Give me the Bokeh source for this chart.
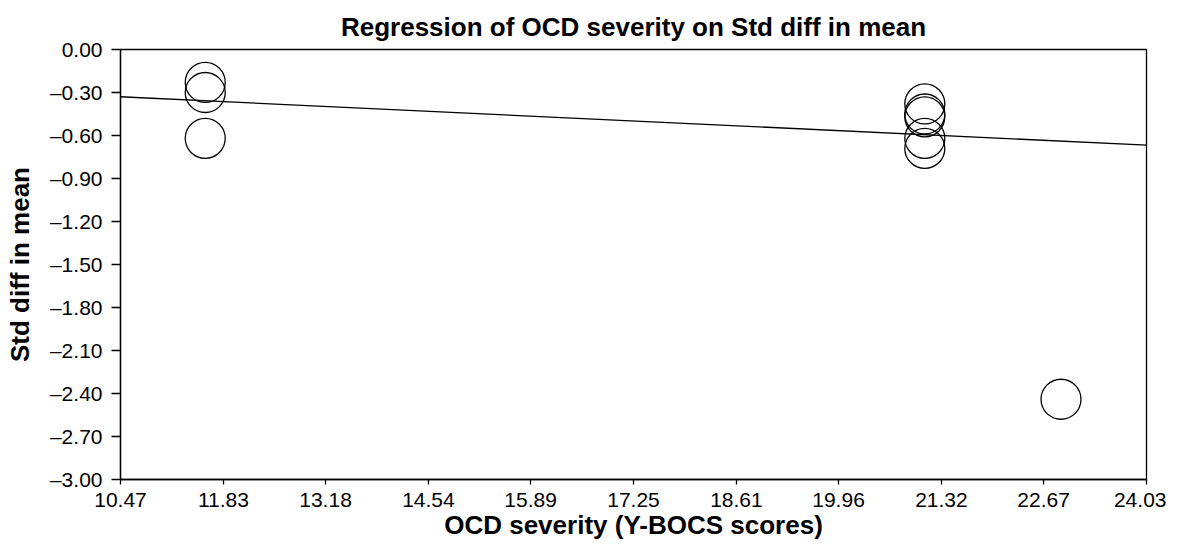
from bokeh.plotting import figure
from bokeh.models import FixedTicker, Slope, ColumnDataSource
from bokeh.embed import file_html
from bokeh.resources import INLINE

# ---- data ----
ocd_severity = [11.59, 11.59, 11.59, 21.10, 21.10, 21.10, 21.10, 21.10, 22.90]
std_diff_mean = [-0.23, -0.30, -0.62, -0.38, -0.45, -0.47, -0.62, -0.69, -2.44]

reg_intercept = -0.069
reg_slope = -0.0249

x_ticks = [10.47, 11.83, 13.18, 14.54, 15.89, 17.25, 18.61, 19.96, 21.32, 22.67, 24.03]
y_ticks = [0.0, -0.3, -0.6, -0.9, -1.2, -1.5, -1.8, -2.1, -2.4, -2.7, -3.0]
y_tick_labels = ["0.00", "\u20130.30", "\u20130.60", "\u20130.90", "\u20131.20", "\u20131.50",
                 "\u20131.80", "\u20132.10", "\u20132.40", "\u20132.70", "\u20133.00"]

FONT = "Liberation Sans"

p = figure(
    frame_width=1026, frame_height=430,
    x_range=(x_ticks[0], x_ticks[-1]), y_range=(y_ticks[-1], y_ticks[0]),
    output_backend="svg", toolbar_location=None,
    min_border_left=120, min_border_top=49, min_border_right=20, min_border_bottom=40,
    title="Regression of OCD severity on Std diff in mean",
)
p.background_fill_color = "white"
p.border_fill_color = "white"
p.outline_line_color = "black"
p.outline_line_width = 1.3
p.xgrid.visible = False
p.ygrid.visible = False

p.title.align = "center"
p.title.text_font = FONT
p.title.text_font_size = "26px"
p.title.text_font_style = "bold"
p.title.text_color = "black"
p.title.standoff = 16

# axes
p.xaxis.ticker = FixedTicker(ticks=x_ticks)
p.xaxis.major_label_overrides = {v: f"{v:.2f}" for v in x_ticks}
p.yaxis.ticker = FixedTicker(ticks=y_ticks)
p.yaxis.major_label_overrides = dict(zip(y_ticks, y_tick_labels))

for ax in (p.xaxis[0], p.yaxis[0]):
    ax.axis_line_color = "black"
    ax.axis_line_width = 1.3
    ax.major_tick_line_color = "black"
    ax.major_tick_line_width = 1.3
    ax.major_tick_in = 0
    ax.minor_tick_line_color = None
    ax.major_label_text_font = FONT
    ax.major_label_text_font_size = "21px"
    ax.major_label_text_color = "black"
    ax.axis_label_text_font = FONT
    ax.axis_label_text_font_size = "26px"
    ax.axis_label_text_font_style = "bold"
    ax.axis_label_text_color = "black"

p.xaxis.major_tick_out = 5
p.xaxis.major_label_standoff = 8
p.xaxis.axis_label = "OCD severity (Y-BOCS scores)"
p.xaxis.axis_label_standoff = 0

p.yaxis.major_tick_out = 9
p.yaxis.major_label_standoff = 9
p.yaxis.axis_label = "Std diff in mean"
p.yaxis.axis_label_standoff = 12

src = ColumnDataSource(dict(x=ocd_severity, y=std_diff_mean))
p.scatter("x", "y", source=src, size=40, marker="circle",
          fill_color=None, line_color="black", line_width=1.3)

p.add_layout(Slope(gradient=reg_slope, y_intercept=reg_intercept,
                   line_color="black", line_width=1.3))

open("out.html", "w").write(file_html(p, INLINE))
